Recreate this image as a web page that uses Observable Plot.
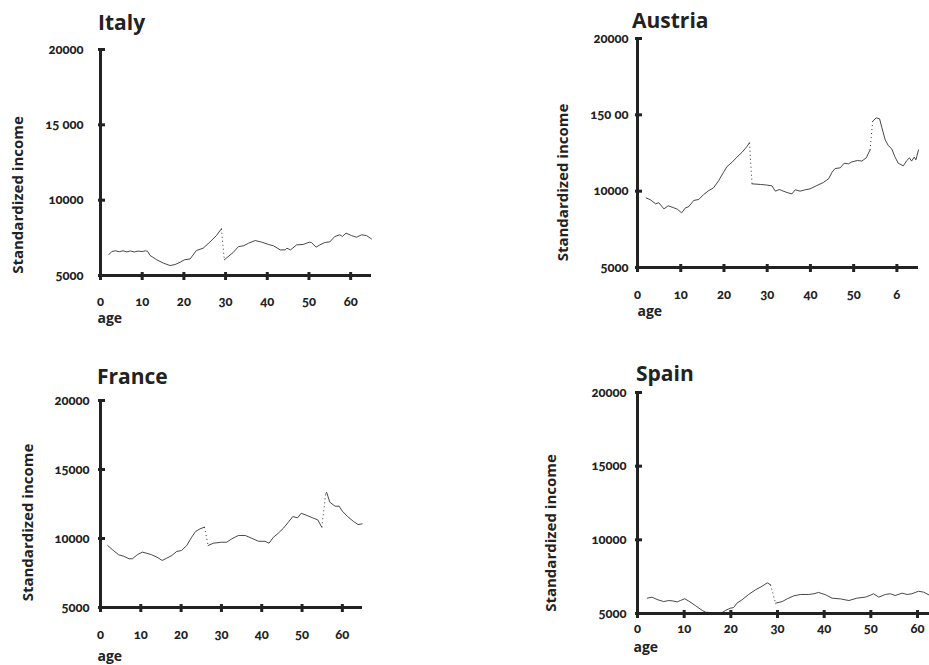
<!DOCTYPE html>
<html><head><meta charset="utf-8">
<script src="https://cdn.jsdelivr.net/npm/d3@7"></script>
<script src="https://cdn.jsdelivr.net/npm/@observablehq/plot@0.6"></script>
<style>
html,body{margin:0;padding:0;background:#fff;}
body{width:929px;height:665px;overflow:hidden;position:relative;font-family:"Open Sans",sans-serif;}
.panel{position:absolute;}
.title{position:absolute;font-family:"Open Sans",sans-serif;font-weight:700;font-size:21px;color:#222;line-height:1;white-space:nowrap;}
svg text{font-variant-numeric:oldstyle-nums;font-feature-settings:"onum" 1;}
svg g[aria-label="x-axis tick label"] text, svg g[aria-label="y-axis tick label"] text{font-family:Lato,"Open Sans",sans-serif;font-weight:900;}
</style></head><body>
<script>
// ---- Data ----
const xTicks = [0, 10, 20, 30, 40, 50, 60];
const yTicks = [5000, 10000, 15000, 20000];
const xLabels = ["0", "10", "20", "30", "40", "50", "60"];
const austriaXLabels = ["0", "10", "20", "30", "40", "50", "6"];
const yLabels = ["5000", "10000", "15000", "20000"];
const italyYLabels = ["5000", "10000", "15 000", "20000"];
const austriaYLabels = ["5000", "10000", "150 00", "20000"];
const yTitle = "Standardized income";
const xTitle = "age";

// null marks a break (drawn dotted)
const italyAge = [2.0, 2.7, 3.6, 4.5, 5.4, 6.3, 7.2, 8.1, 9.0, 10.0, 10.8, 11.3, 11.9, 13.5, 15.1, 16.7, 17.9, 19.1, 20.1, 21.5, 23.0, 24.6, 26.2, 27.8, 29.0,
  null,
  29.7, 31.9, 33.1, 34.3, 35.5, 37.1, 38.7, 40.3, 41.5, 43.1, 44.3, 44.7, 45.6, 47.0, 48.6, 50.1, 50.6, 51.7, 52.6, 53.8, 55.0, 56.2, 57.4, 58.0, 58.9, 60.2, 61.4, 62.6, 63.8, 65.0];
const italyIncome = [6390, 6590, 6640, 6580, 6640, 6570, 6630, 6560, 6620, 6590, 6640, 6600, 6330, 6040, 5820, 5660, 5730, 5880, 6040, 6100, 6660, 6810, 7210, 7650, 8100,
  null,
  6040, 6550, 6920, 6970, 7140, 7320, 7210, 7060, 6970, 6700, 6700, 6810, 6700, 7030, 7060, 7210, 7190, 6880, 7030, 7190, 7230, 7590, 7700, 7590, 7810, 7650, 7540, 7700, 7650, 7430];

const austriaAge = [2.0, 3.0, 4.2, 4.9, 6.1, 7.1, 8.4, 9.2, 10.2, 11.1, 11.8, 13.0, 14.2, 15.3, 16.5, 17.6, 18.8, 19.9, 20.7, 21.9, 23.0, 24.2, 25.3, 25.9,
  null,
  26.5, 28.4, 29.9, 31.1, 31.9, 32.8, 33.4, 34.6, 35.7, 36.5, 37.6, 38.8, 39.9, 41.5, 43.0, 44.2, 45.0, 45.7, 46.9, 47.8, 48.8, 49.6, 50.9, 51.9, 52.9, 53.8,
  null,
  54.4, 55.2, 56.0, 56.5, 57.3, 58.0, 58.8, 59.6, 60.3, 61.5, 62.3, 62.9, 63.4, 64.0, 64.4, 65.0];
const austriaIncome = [9560, 9430, 9170, 9250, 8840, 9040, 8910, 8820, 8580, 8910, 8970, 9390, 9460, 9780, 10040, 10220, 10700, 11240, 11610, 11900, 12230, 12550, 12920, 13170,
  null,
  10480, 10440, 10400, 10350, 10000, 10110, 10040, 9910, 9820, 10090, 10000, 10090, 10150, 10370, 10570, 10810, 11240, 11480, 11530, 11830, 11790, 11920, 12010, 11970, 12180, 12700,
  null,
  14580, 14800, 14740, 14190, 13360, 12990, 12770, 12220, 11830, 11660, 12010, 12180, 11970, 12230, 12050, 12700];

const franceAge = [1.8, 3.0, 4.5, 5.7, 7.1, 7.9, 9.2, 10.4, 11.5, 12.7, 14.0, 15.3, 16.4, 17.7, 18.9, 20.1, 21.4, 22.6, 23.6, 24.7, 25.8,
  null,
  26.7, 28.0, 30.0, 31.3, 32.6, 34.2, 35.9, 37.5, 39.2, 40.8, 41.8, 42.9, 44.1, 45.4, 46.6, 47.7, 48.9, 49.8, 51.2, 52.6, 53.9, 54.9,
  null,
  55.9, 56.1, 56.9, 58.2, 59.2, 60.0, 61.3, 62.7, 63.9, 64.9];
const franceIncome = [9490, 9180, 8820, 8720, 8530, 8530, 8840, 9010, 8930, 8820, 8650, 8410, 8570, 8770, 9060, 9130, 9490, 10090, 10510, 10700, 10820,
  null,
  9490, 9660, 9730, 9730, 9980, 10220, 10220, 10020, 9800, 9800, 9660, 10090, 10380, 10750, 11180, 11590, 11500, 11830, 11670, 11500, 11350, 10820,
  null,
  13280, 13350, 12630, 12340, 12340, 11980, 11590, 11250, 11010, 11060];

const spainAge = [2.1, 3.1, 4.2, 5.6, 6.7, 7.6, 8.5, 9.2, 10.1, 11.0, 12.4, 13.9, 14.6, 16.0, 17.8, 18.8, 19.9, 20.6, 21.3, 22.4, 23.8, 25.3, 26.7, 27.8, 28.5,
  null,
  29.6, 31.0, 32.1, 33.5, 34.9, 36.7, 37.8, 38.8, 40.3, 41.7, 43.5, 45.3, 47.0, 48.8, 49.9, 50.6, 51.7, 53.1, 54.2, 55.2, 56.7, 57.8, 58.8, 60.2, 61.3, 62.4];
const spainIncome = [6040, 6110, 5950, 5810, 5880, 5850, 5790, 5880, 6000, 5840, 5540, 5200, 5090, 5050, 5000, 5200, 5360, 5400, 5700, 5930, 6290, 6610, 6850, 7080, 6950,
  null,
  5700, 5810, 6000, 6200, 6290, 6290, 6340, 6430, 6270, 6040, 5990, 5880, 6040, 6110, 6240, 6340, 6110, 6290, 6340, 6220, 6380, 6290, 6340, 6510, 6450, 6270];

// ---- Layout ----
const panels = [
  {name: "Italy", age: italyAge, income: italyIncome, xl: xLabels, yl: italyYLabels,
   left: 0, top: 0, w: 380, h: 330, ml: 100, mr: 9, mt: 49, mb: 55, xmax: 65,
   xpad: 21, ypad: 17, ytdx: -82.5, ytdy: 32.5, agedx: -3, agedy: 43, tl: 98, tt: 12},
  {name: "Austria", age: austriaAge, income: austriaIncome, xl: austriaXLabels, yl: austriaYLabels,
   left: 540, top: 0, w: 389, h: 330, ml: 97, mr: 11, mt: 38, mb: 63, xmax: 65,
   xpad: 22, ypad: 9, ytdx: -74, ytdy: 29.5, agedx: 0, agedy: 44.5, tl: 632, tt: 9.5},
  {name: "France", age: franceAge, income: franceIncome, xl: xLabels, yl: yLabels,
   left: 0, top: 360, w: 380, h: 305, ml: 100, mr: 18, mt: 40, mb: 58, xmax: 65,
   xpad: 22, ypad: 11, ytdx: -72.5, ytdy: 18.5, agedx: -3, agedy: 49.5, tl: 97, tt: 366},
  {name: "Spain", age: spainAge, income: spainIncome, xl: xLabels, yl: yLabels,
   left: 540, top: 360, w: 389, h: 305, ml: 97, mr: 0, mt: 32, mb: 52, xmax: 62.57,
   xpad: 10, ypad: 11, ytdx: -86, ytdy: 30, agedx: -4, agedy: 34, tl: 636, tt: 363}
];

const ink = "#222";

for (const p of panels) {
  const rows = p.age.map((a, i) => ({age: a, income: p.income[i]}));
  const breaks = [];
  rows.forEach((r, i) => {
    if (r.income == null) breaks.push({x1: rows[i - 1].age, y1: rows[i - 1].income, x2: rows[i + 1].age, y2: rows[i + 1].income});
  });
  const chart = Plot.plot({
    width: p.w, height: p.h,
    marginLeft: p.ml, marginRight: p.mr, marginTop: p.mt, marginBottom: p.mb,
    style: {fontFamily: '"Open Sans", sans-serif', fontSize: "13px", fontWeight: 700, color: ink, background: "transparent", overflow: "visible"},
    x: {domain: [0, p.xmax]},
    y: {domain: [5000, 20000]},
    marks: [
      Plot.line(rows, {x: "age", y: "income", stroke: "#333", strokeWidth: 0.9}),
      Plot.link(breaks, {x1: "x1", y1: "y1", x2: "x2", y2: "y2", stroke: "#333", strokeWidth: 1, strokeDasharray: "1,3"}),
      Plot.ruleX([0], {stroke: ink, strokeWidth: 3}),
      Plot.ruleY([5000], {stroke: ink, strokeWidth: 3}),
      Plot.axisX({ticks: xTicks, tickSize: 8, dy: -3, stroke: ink, strokeWidth: 3, fill: "none", label: null}),
      Plot.axisX({ticks: xTicks, tickSize: 0, tickPadding: p.xpad, fill: ink, tickFormat: d => p.xl[xTicks.indexOf(d)], label: null}),
      Plot.axisY({ticks: yTicks, tickSize: 7, dx: 5, stroke: ink, strokeWidth: 3, fill: "none", label: null}),
      Plot.axisY({ticks: yTicks, tickSize: 0, tickPadding: p.ypad, fill: ink, tickFormat: d => p.yl[yTicks.indexOf(d)], label: null}),
      Plot.text([yTitle], {frameAnchor: "left", textAnchor: "middle", lineAnchor: "middle", rotate: -90, dx: p.ytdx, dy: p.ytdy, fontSize: 15, fontWeight: 700, fill: ink}),
      Plot.text([xTitle], {frameAnchor: "bottom-left", textAnchor: "start", lineAnchor: "middle", dx: p.agedx, dy: p.agedy, fontSize: 14, fontWeight: 700, fill: ink})
    ]
  });
  const holder = document.createElement("div");
  holder.className = "panel";
  holder.style.left = p.left + "px";
  holder.style.top = p.top + "px";
  holder.appendChild(chart);
  document.body.appendChild(holder);
  const t = document.createElement("div");
  t.className = "title";
  t.textContent = p.name;
  t.style.left = p.tl + "px";
  t.style.top = p.tt + "px";
  document.body.appendChild(t);
}
</script>
</body></html>
